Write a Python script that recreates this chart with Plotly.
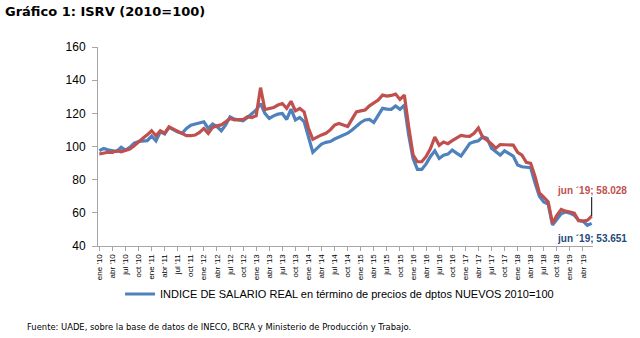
import plotly.graph_objects as go

# Monthly index, January 2010 to June 2019 (2010=100)
years = list(range(2010, 2020))
month_abbr = ["ene", "feb", "mar", "abr", "may", "jun", "jul", "ago", "sep", "oct", "nov", "dic"]

isrv_nuevos = [
    97.5, 98.8, 98.0, 97.5, 97.0, 99.5, 97.8, 99.5, 102.0, 103.0, 103.3, 103.5,
    106.3, 103.4, 108.8, 107.5, 111.5, 110.0, 108.8, 108.0, 110.9, 112.9, 113.5, 114.0,
    114.9, 110.9, 113.5, 112.0, 109.5, 113.0, 117.9, 116.5, 116.0, 115.5, 117.5, 119.9,
    122.0, 125.9, 120.0, 116.9, 118.5, 119.5, 119.9, 116.3, 122.5, 116.0, 117.5, 115.0,
    106.0, 96.5, 99.0, 101.5, 102.5, 103.0, 104.5, 105.5, 106.5, 108.0, 110.0, 112.5,
    114.5, 116.0, 116.3, 114.5, 118.5, 123.0, 122.5, 122.4, 124.4, 122.4, 125.0, 107.0,
    92.8, 86.2, 86.2, 89.5, 94.0, 97.4, 92.8, 94.8, 95.4, 97.8, 96.0, 94.2,
    98.0, 101.8, 102.8, 103.5, 105.9, 104.9, 99.0, 96.8, 94.8, 97.4, 96.0, 94.2,
    88.8, 87.8, 87.5, 87.2, 78.0, 70.0, 66.5, 65.3, 52.7, 56.0, 59.5, 60.5,
    59.8, 58.5, 55.5, 55.0, 52.5, 53.651,
]

isrv_red = [
    95.5, 96.2, 96.5, 96.5, 97.4, 96.8, 97.5, 98.5, 100.5, 103.0, 105.0, 107.0,
    109.5, 106.5, 109.5, 108.0, 111.9, 110.5, 109.0, 108.0, 106.5, 106.5, 106.9, 108.5,
    110.9, 107.9, 111.5, 112.5, 113.0, 114.9, 116.9, 116.0, 116.0, 116.3, 118.0, 117.5,
    118.5, 135.5, 122.3, 122.9, 123.5, 125.0, 125.9, 123.0, 127.3, 121.5, 122.9, 120.9,
    111.0, 104.3, 105.9, 107.0, 108.0, 110.0, 112.9, 113.9, 113.0, 112.0, 116.5, 120.9,
    121.5, 122.0, 124.5, 126.5, 128.0, 131.0, 130.4, 130.8, 131.6, 128.4, 131.0, 112.0,
    95.0, 90.8, 90.8, 94.0, 98.8, 105.7, 100.7, 102.7, 101.7, 103.5, 105.3, 106.7,
    106.3, 106.1, 108.0, 111.2, 105.5, 103.8, 101.5, 99.0, 101.2, 101.0, 101.0, 100.8,
    96.5, 94.8, 90.5, 89.8, 82.0, 72.0, 69.5, 66.7, 53.7, 58.5, 62.1, 61.0,
    60.5, 59.8, 55.3, 55.0, 55.5, 58.028,
]

y_ticks = [40, 60, 80, 100, 120, 140, 160]

n = len(isrv_nuevos)
months = list(range(n))
month_names = [f"{month_abbr[i % 12]} '{str(years[i // 12])[2:]}" for i in months]
quarter_idx = months[::3]
quarter_txt = [month_names[i] for i in quarter_idx]

BLUE = "#4F81BD"
RED = "#C0504D"
NAVY = "#1F497D"

# plot area in pixels
W, H = 640, 338
L, R, T, B = 98, 47, 47, 92
plot_w, plot_h = W - L - R, H - T - B

fig = go.Figure()
fig.add_trace(go.Scatter(
    x=months, y=isrv_nuevos, mode="lines",
    name="INDICE DE SALARIO REAL en término de precios de dptos NUEVOS 2010=100",
    line=dict(color=BLUE, width=3.2),
))
fig.add_trace(go.Scatter(
    x=months, y=isrv_red, mode="lines", showlegend=False,
    line=dict(color=RED, width=3.2),
))

last = n - 1
fig.add_annotation(
    x=last, y=isrv_red[-1], xref="x", yref="y",
    text=f"<b>jun ´19; {isrv_red[-1]:.3f}</b>",
    font=dict(family="Liberation Sans", size=10, color=RED),
    showarrow=True, arrowhead=0, arrowwidth=1, arrowcolor="black",
    ax=0, ay=-26, standoff=0,
)
fig.add_annotation(
    x=last, y=isrv_nuevos[-1], xref="x", yref="y",
    text=f"<b>jun ´19; {isrv_nuevos[-1]:.3f}</b>",
    font=dict(family="Liberation Sans", size=10, color=NAVY),
    showarrow=False, yshift=-15,
)
fig.add_annotation(
    x=(25 - L) / plot_w, y=(H - B - 327) / plot_h, xref="paper", yref="paper",
    xanchor="left", yanchor="middle", showarrow=False,
    text="Fuente: UADE, sobre la base de datos de INECO, BCRA y Ministerio de Producción y Trabajo.",
    font=dict(family="DejaVu Sans", size=8.4, color="black"),
)

fig.update_layout(
    width=W, height=H, autosize=False,
    paper_bgcolor="white", plot_bgcolor="white",
    margin=dict(l=L, r=R, t=T, b=B),
    title=dict(
        text="<b>Gráfico 1: ISRV (2010=100)</b>",
        x=5 / W, xanchor="left", xref="container",
        y=1 - 11 / H, yanchor="middle", yref="container",
        font=dict(family="DejaVu Sans", size=13, color="black"),
    ),
    showlegend=True,
    legend=dict(
        orientation="h", x=0.488, xanchor="center", y=(H - B - 294) / plot_h, yanchor="middle",
        font=dict(family="Liberation Sans", size=11, color="black"),
        bgcolor="rgba(0,0,0,0)",
    ),
    xaxis=dict(
        range=[-0.3, last + 0.3], tickmode="array", tickvals=quarter_idx, ticktext=quarter_txt,
        tickangle=-90, tickfont=dict(family="Liberation Sans", size=8, color="black"),
        showgrid=False, zeroline=False, showline=True, linecolor="#A6A6A6", linewidth=1,
        ticks="outside", ticklen=4, tickcolor="#A6A6A6",
    ),
    yaxis=dict(
        range=[40, 160], tickmode="array", tickvals=y_ticks,
        tickfont=dict(family="Liberation Sans", size=12, color="black"),
        showgrid=False, zeroline=False, showline=True, linecolor="#A6A6A6", linewidth=1,
        ticks="outside", ticklen=5, tickcolor="#A6A6A6", ticklabelstandoff=4,
    ),
)

fig.write_html("out.html")
